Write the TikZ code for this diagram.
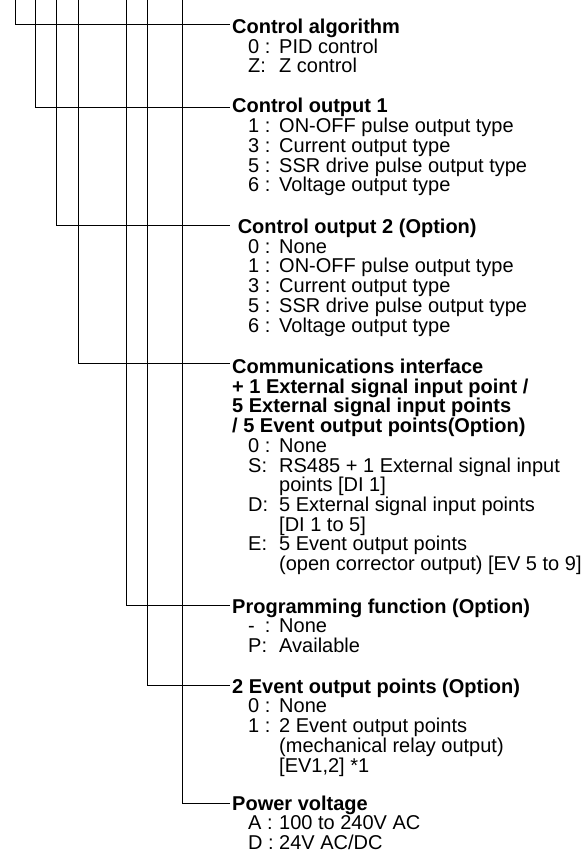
\documentclass[tikz,border=0pt]{standalone}
\usepackage{fontspec}
\setmainfont{Liberation Sans}
\newcommand{\itm}[2]{\hspace*{16pt}\makebox[31pt][l]{#1}#2}
\newcommand{\cnt}[1]{\hspace*{47pt}#1}
\newcommand{\fl}{\rule{0pt}{16pt}}
\begin{document}
\begin{tikzpicture}[x=1pt,y=-1pt,
  conn/.style={draw=black,line width=0.9pt},
  head/.style={anchor=base west,inner xsep=2pt,inner ysep=0pt,font=\fontsize{20pt}{19.7pt}\selectfont\bfseries},
  items/.style={anchor=north west,inner sep=0pt,align=left,font=\fontsize{20pt}{19.7pt}\selectfont}]
\useasboundingbox (0,0) rectangle (584,853);
% top ends of the vertical lines
\coordinate (v1) at (15,0);
\coordinate (v2) at (35,0);
\coordinate (v3) at (56,0);
\coordinate (v4) at (78,0);
\coordinate (v5) at (126,0);
\coordinate (v6) at (147,0);
\coordinate (v7) at (182,0);
% headings
\node[head] (h1) at (230,33.3) {Control algorithm};
\node[head] (h2) at (230,112.7) {Control output 1};
\node[head] (h3) at (230,233.3) {\ Control output 2 (Option)};
\node[head] (h4) at (230,373.3) {Communications interface};
\node[head] (h5) at (230,613) {Programming function (Option)};
\node[head] (h6) at (230,693) {2 Event output points (Option)};
\node[head] (h7) at (230,810) {Power voltage};
% items
\node[items] (i1) at ([shift={(2pt,-3.7pt)}]h1.base west)
  {\fl\itm{0 :}{PID control}\\ \itm{Z:}{Z control}};
\node[items] (i2) at ([shift={(2pt,-3.7pt)}]h2.base west)
  {\fl\itm{1 :}{ON-OFF pulse output type}\\
   \itm{3 :}{Current output type}\\
   \itm{5 :}{SSR drive pulse output type}\\
   \itm{6 :}{Voltage output type}};
\node[items] (i3) at ([shift={(2pt,-3.7pt)}]h3.base west)
  {\fl\itm{0 :}{None}\\
   \itm{1 :}{ON-OFF pulse output type}\\
   \itm{3 :}{Current output type}\\
   \itm{5 :}{SSR drive pulse output type}\\
   \itm{6 :}{Voltage output type}};
\node[items] (i4) at ([shift={(2pt,-3.7pt)}]h4.base west)
  {\fl\textbf{+ 1 External signal input point /}\\
   \textbf{5 External signal input points}\\
   \textbf{/ 5 Event output points(Option)}\\
   \itm{0 :}{None}\\
   \itm{S:}{RS485 + 1 External signal input}\\
   \cnt{points [DI 1]}\\
   \itm{D:}{5 External signal input points}\\
   \cnt{[DI 1 to 5]}\\
   \itm{E:}{5 Event output points}\\
   \cnt{(open corrector output) [EV 5 to 9]}};
\node[items] (i5) at ([shift={(2pt,-3.7pt)}]h5.base west)
  {\fl\itm{-\hspace{10pt}:}{None}\\
   \itm{P:}{Available}};
\node[items] (i6) at ([shift={(2pt,-3.7pt)}]h6.base west)
  {\fl\itm{0 :}{None}\\
   \itm{1 :}{2 Event output points}\\
   \cnt{(mechanical relay output)}\\
   \cnt{[EV1,2] *1}};
\node[items] (i7) at ([shift={(2pt,-3.7pt)}]h7.base west)
  {\fl\itm{A :}{100 to 240V AC}\\
   \itm{D :}{24V AC/DC}};
% connectors
\draw[conn] (v1) |- ([yshift=9.3pt]h1.base west);
\draw[conn] (v2) |- ([yshift=5.7pt]h2.base west);
\draw[conn] (v3) |- ([yshift=8.3pt]h3.base west);
\draw[conn] (v4) |- ([yshift=10pt]h4.base west);
\draw[conn] (v5) |- ([yshift=8pt]h5.base west);
\draw[conn] (v6) |- ([yshift=8pt]h6.base west);
\draw[conn] (v7) |- ([yshift=7pt]h7.base west);
\end{tikzpicture}
\end{document}
